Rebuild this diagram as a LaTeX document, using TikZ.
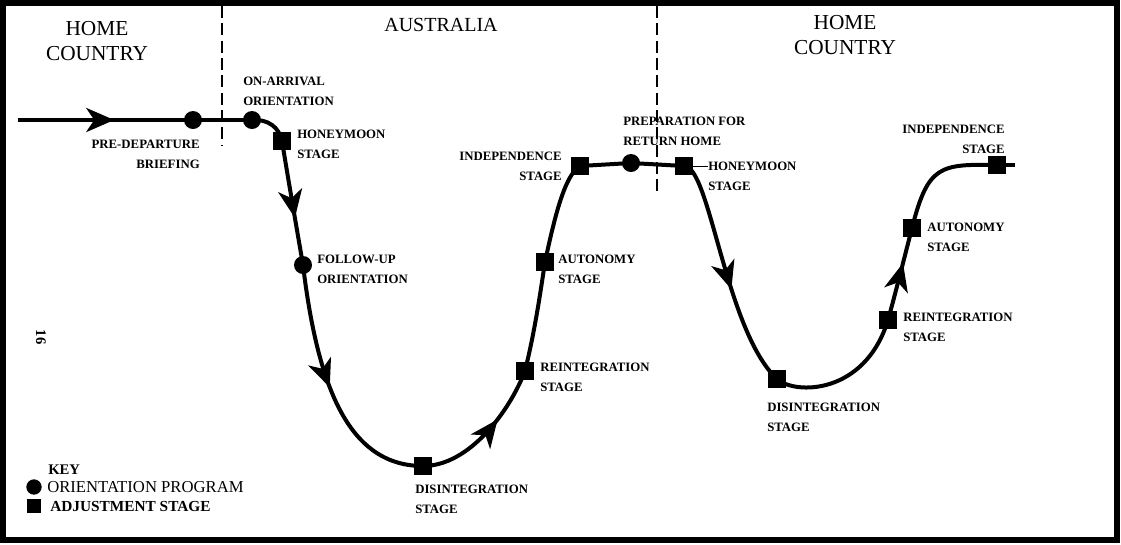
\documentclass[tikz,border=0pt]{standalone}
\usepackage{fontspec}
\setmainfont{Liberation Serif}
\usetikzlibrary{arrows.meta,decorations.markings}
\begin{document}
\begin{tikzpicture}[x=0.75pt,y=-0.75pt,
  curve/.style={line width=3pt},
  orient/.style={circle,fill=black,minimum size=13.5pt,inner sep=0pt},
  adjust/.style={rectangle,fill=black,minimum size=13pt,inner sep=0pt},
  keyorient/.style={circle,fill=black,minimum size=11.5pt,inner sep=0pt},
  keyadjust/.style={rectangle,fill=black,minimum size=11pt,inner sep=0pt},
  lbl/.style={font=\bfseries\fontsize{9.6}{15}\selectfont,inner sep=0pt,align=left},
  lblr/.style={lbl,align=right},
  head/.style={font=\fontsize{16}{19}\selectfont,align=center,inner sep=0pt},
  divider/.style={line width=1.5pt,dash pattern=on 9pt off 4pt},
  leader/.style={line width=0.6pt},
  midarrow/.style={postaction={decorate},decoration={markings,mark=at position #1 with {\arrow{Stealth[length=21pt,width=18pt,inset=6pt]}}}},
]
\useasboundingbox (0,0) rectangle (1121,544);
\draw[line width=4pt] (3,3) rectangle (1117,540);

% dividers
\coordinate (d1a) at (222,6); \coordinate (d1b) at (222,146);
\coordinate (d2a) at (657,6); \coordinate (d2b) at (657,192);
\draw[divider] (d1a) -- (d1b);
\draw[divider] (d2a) -- (d2b);

% headings
\node[head,anchor=north] (h1) at (97,21) {HOME\\COUNTRY};
\node[head,anchor=north,font=\fontsize{15}{19}\selectfont] (h2) at (441,18) {AUSTRALIA};
\node[head,anchor=north] (h3) at (845,15) {HOME\\COUNTRY};

% markers
\coordinate (start) at (18,120);
\node[orient] (c1) at (193,120) {};
\node[orient] (c2) at (252,120) {};
\node[adjust] (s1) at (282,141) {};
\node[orient] (c3) at (303,265) {};
\node[adjust] (s2) at (423,466) {};
\node[adjust] (s3) at (525,371) {};
\node[adjust] (s4) at (545,262) {};
\node[adjust] (s5) at (580,166) {};
\node[orient] (c4) at (631,163) {};
\node[adjust] (s6) at (684,166) {};
\node[adjust] (s7) at (777,379) {};
\node[adjust] (s8) at (888,320) {};
\node[adjust] (s9) at (912,228) {};
\node[adjust] (s10) at (997,165) {};
\coordinate (end) at (1015,165);

% curve
\draw[curve,midarrow=0.55] (start) -- (c1.center);
\draw[curve] (c1.center) -- (c2.center);
\draw[curve] (c2.center) .. controls (268,119) and (279,127) .. (s1.center);
\draw[curve,midarrow=0.62] (s1.center) .. controls (290,190) and (297,230) .. (c3.center);
\draw[curve,midarrow=0.49] (c3.center) .. controls (318,390) and (350,466) .. (s2.center);
\draw[curve,midarrow=0.62] (s2.center) .. controls (470,466) and (510,410) .. (s3.center);
\draw[curve] (s3.center) .. controls (535,330) and (540,295) .. (s4.center);
\draw[curve] (s4.center) .. controls (555,215) and (565,175) .. (s5.center);
\draw[curve] (s5.center) -- (c4.center) -- (s6.center);
\draw[curve,midarrow=0.57] (s6.center) .. controls (710,165) and (725,330) .. (s7.center);
\draw[curve] (s7.center) .. controls (795,395) and (865,395) .. (s8.center);
\draw[curve,midarrow=0.62] (s8.center) .. controls (895,295) and (905,255) .. (s9.center);
\draw[curve] (s9.center) .. controls (928,165) and (940,164) .. (s10.center);
\draw[curve] (s10.center) -- (end);

% labels
\node[lblr,anchor=north east] (lpre) at (200,140) {PRE-DEPARTURE\\BRIEFING};
\node[lbl,anchor=north west] (lon) at (243,77) {ON-ARRIVAL\\ORIENTATION};
\node[lbl,anchor=north west] (lh1) at (297,130) {HONEYMOON\\STAGE};
\node[lbl,anchor=north west] (lf) at (317,255) {FOLLOW-UP\\ORIENTATION};
\node[lbl,anchor=north west] (ld1) at (415,485) {DISINTEGRATION\\STAGE};
\node[lbl,anchor=north west] (lr1) at (540,363) {REINTEGRATION\\STAGE};
\node[lbl,anchor=north west] (la1) at (558,255) {AUTONOMY\\STAGE};
\node[lblr,anchor=north east] (li1) at (562,152) {INDEPENDENCE\\STAGE};
\node[lbl,anchor=north west] (lp) at (623,117) {PREPARATION FOR\\RETURN HOME};
\node[lbl,anchor=north west] (lh2) at (708,162) {HONEYMOON\\STAGE};
\node[lbl,anchor=north west] (ld2) at (767,403) {DISINTEGRATION\\STAGE};
\node[lbl,anchor=north west] (lr2) at (903,313) {REINTEGRATION\\STAGE};
\node[lbl,anchor=north west] (la2) at (927,223) {AUTONOMY\\STAGE};
\node[lblr,anchor=north east] (li2) at (1005,125) {INDEPENDENCE\\STAGE};
\draw[leader] (s6.east) -- (lh2.west |- s6.east);

% page number
\node[font=\bfseries\fontsize{11}{13}\selectfont,rotate=-90,inner sep=0pt] (pg) at (41,337) {16};

% key
\node[anchor=north west,inner sep=0pt,font=\bfseries\fontsize{11}{13}\selectfont] (key) at (48,465) {KEY};
\node[keyorient] (k1) at (34,487) {};
\node[anchor=west,inner sep=0pt,font=\fontsize{12.5}{14}\selectfont] (k1t) at (47,487) {ORIENTATION PROGRAM};
\node[keyadjust] (k2) at (34,506) {};
\node[anchor=west,inner sep=0pt,font=\bfseries\fontsize{11.5}{14}\selectfont] (k2t) at (50,506) {ADJUSTMENT STAGE};
\end{tikzpicture}
\end{document}
